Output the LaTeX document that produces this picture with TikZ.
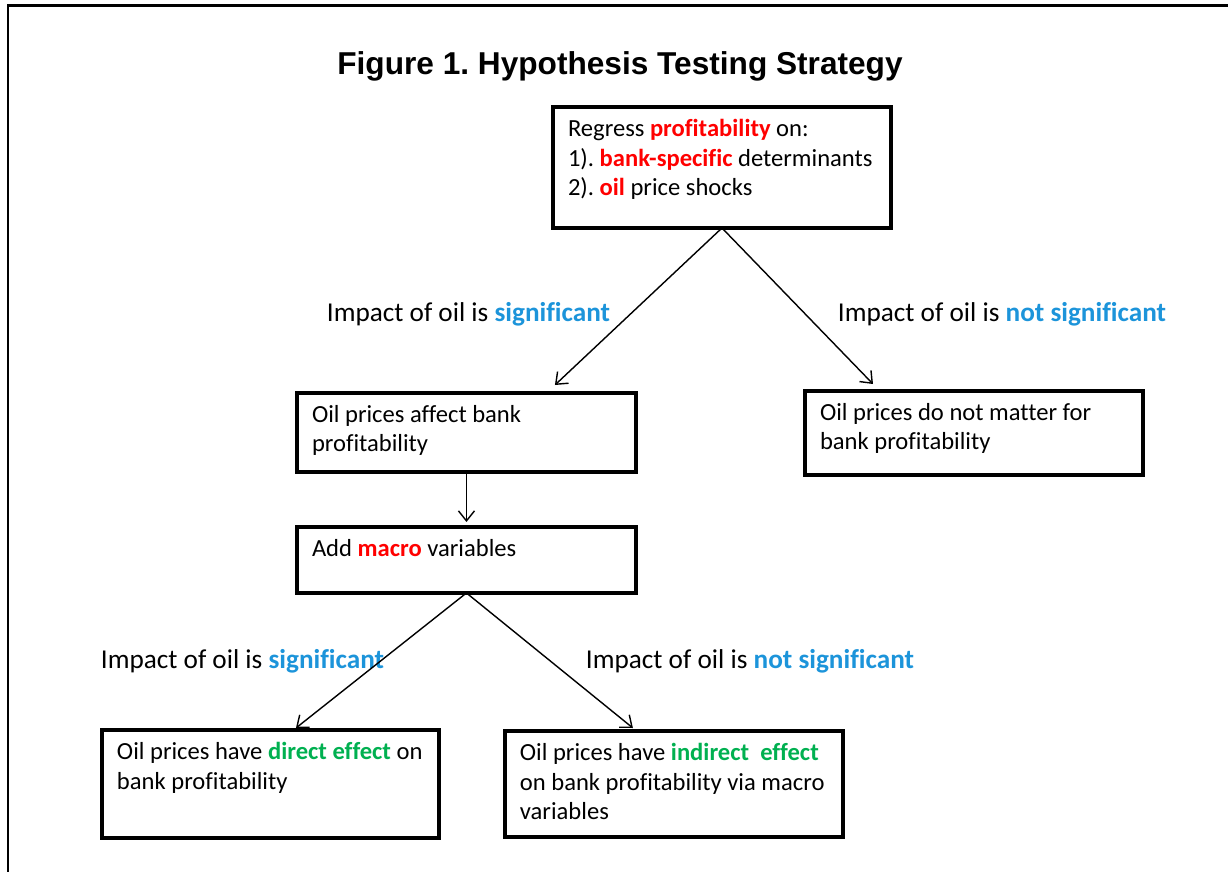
\documentclass[tikz,border=0pt]{standalone}
\usepackage{fontspec}
\setmainfont{Carlito}[Ligatures=NoCommon]
\newfontfamily\arialfont{Liberation Sans}
\usetikzlibrary{arrows.meta,positioning}
\definecolor{hypred}{HTML}{FF0000}
\definecolor{hypblue}{HTML}{1C94DA}
\definecolor{hypgreen}{HTML}{00B050}
\newcommand{\redkw}[1]{\textbf{\textcolor{hypred}{#1}}}
\newcommand{\bluekw}[1]{\textbf{\textcolor{hypblue}{#1}}}
\newcommand{\greenkw}[1]{\textbf{\textcolor{hypgreen}{#1}}}
\newcommand{\boxtxt}[3]{\parbox[t][#2][t]{#1}{\raggedright #3}}
\frenchspacing

\begin{document}
\begin{tikzpicture}[
    x=0.02cm, y=-0.02cm,
    stepbox/.style={rectangle, draw=black, line width=2.2pt, outer sep=0pt,
                    inner xsep=0.3cm, inner ysep=0.24cm,
                    font=\fontsize{14}{17}\selectfont},
    branch/.style={font=\fontsize{15.5}{18}\selectfont, anchor=base},
    arr/.style={-{Straight Barb[length=2mm, width=3.2mm]}, line width=0.8pt, black}
]
\useasboundingbox (0,0) rectangle (1228,872);

% frame
\draw[line width=1.2pt] (8,872) -- (8,5.5) -- (1228,5.5);

\node[anchor=base, font=\arialfont\bfseries\fontsize{18}{21}\selectfont] (title)
    at (620,74) {Figure 1. Hypothesis Testing Strategy};

\node[stepbox, anchor=north west] (regress) at (553,107)
    {\boxtxt{6.16cm}{1.94cm}{Regress \redkw{profitability} on:\\
     1). \redkw{bank-specific} determinants\\
     2). \redkw{oil} price shocks}};

\node[stepbox, anchor=north west] (affect) at (297,393)
    {\boxtxt{6.18cm}{1.10cm}{Oil prices affect bank profitability}};
\node[stepbox, anchor=north west] (nomatter) at (805,391)
    {\boxtxt{6.16cm}{1.20cm}{Oil prices do not matter for bank profitability}};
\node[stepbox, below=1.1cm of affect] (macro)
    {\boxtxt{6.18cm}{0.84cm}{Add \redkw{macro} variables}};

\node[stepbox, anchor=north west] (direct) at (102,730)
    {\boxtxt{6.14cm}{1.68cm}{Oil prices have \greenkw{direct effect} on bank profitability}};
\node[stepbox, right=1.32cm of direct] (indirect)
    {\boxtxt{6.16cm}{1.64cm}{Oil prices have \greenkw{indirect~ effect} on bank profitability via macro variables}};

% branch labels
\node[branch] (sig1) at (468.5,321) {Impact of oil is \bluekw{significant}};
\node[branch] (not1) at (1002,321) {Impact of oil is \bluekw{not significant}};
\node[branch] (sig2) at (242.5,668) {Impact of oil is \bluekw{significant}};
\node[branch] (not2) at (750,668) {Impact of oil is \bluekw{not significant}};

\draw[arr] (regress.south) -- ([xshift=1.77cm, yshift=0.16cm]affect.north);
\draw[arr] (regress.south) -- ([xshift=-2.02cm, yshift=0.14cm]nomatter.north);
\draw[arr] (affect.south) -- ([yshift=0.1cm]macro.north);
\draw[arr] (macro.south) -- ([xshift=0.51cm, yshift=0.04cm]direct.north);
\draw[arr] (macro.south) -- ([xshift=-0.82cm, yshift=0.06cm]indirect.north);

\end{tikzpicture}
\end{document}
